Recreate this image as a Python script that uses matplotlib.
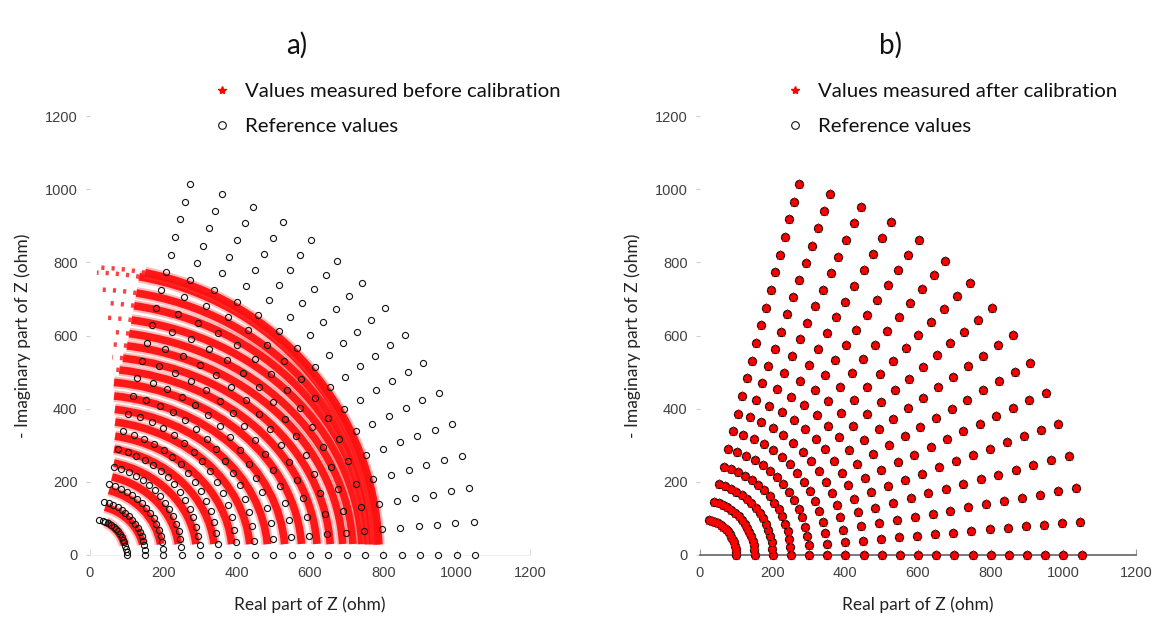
import numpy as np
import matplotlib
matplotlib.use("Agg")
import matplotlib.pyplot as plt
from matplotlib.patches import Arc
from matplotlib.lines import Line2D

# ---------------- data ----------------
# Reference impedances: magnitude (ohm) x phase (deg) grid
ref_magnitudes = [100, 150, 200, 250, 300, 350, 400, 450, 500, 550,
                  600, 650, 700, 750, 800, 850, 900, 950, 1000, 1050]
ref_phases_deg = [0, 5, 10, 15, 20, 25, 30, 35, 40, 45, 50, 55, 60, 65, 70, 75]

# After calibration the measured values sit on the reference values
cal_magnitudes = [100, 150, 200, 250, 300, 350, 400, 450, 500, 550,
                  600, 650, 700, 750, 800, 850, 900, 950, 1000, 1050]
cal_phases_deg = [0, 5, 10, 15, 20, 25, 30, 35, 40, 45, 50, 55, 60, 65, 70, 75]

# Before calibration: each reference ring is measured as a dense band
band_real_axis = [98, 147, 195, 243, 291, 340, 388, 437, 485, 532,
                  578, 620, 656, 690, 718, 742, 760, 772, 782, 788]
band_imag_axis = [100, 136, 183, 220, 258, 295, 330, 368, 402, 438,
                  475, 510, 543, 578, 612, 650, 690, 726, 772, 786]
band_phase_start = [16, 11.5, 8.8, 7.1, 5.9, 5.1, 4.4, 3.9, 3.5, 3.2,
                    3.0, 2.8, 2.6, 2.5, 2.4, 2.3, 2.2, 2.2, 2.1, 2.1]
band_phase_dense_end = [64, 72.6, 73.7, 74.3, 75.5, 77.2, 78.1, 79.3, 80.3, 81.4,
                        82.1, 81.0, 80.5, 80.0, 80.0, 80.0, 80.0, 80.0, 80.0, 79.0]
band_phase_end = [64, 72.6, 73.7, 74.3, 75.5, 77.2, 78.1, 79.3, 80.3, 81.4,
                  82.1, 82.7, 83.6, 84.5, 85.1, 85.9, 86.6, 87.4, 88.6, 89.0]

axis_ticks = [0, 200, 400, 600, 800, 1000, 1200]
panel_titles = ["a)", "b)"]
legend_measured = ["Values measured before calibration", "Values measured after calibration"]
legend_reference = "Reference values"
x_label = "Real part of Z (ohm)"
y_label = "- Imaginary part of Z (ohm)"

# ---------------- figure ----------------
W, H = 1164, 623
fig = plt.figure(figsize=(W / 100, H / 100), dpi=100)
label_font = ["Lato", "DejaVu Sans"]
tick_font = ["Liberation Sans", "DejaVu Sans"]


def polar_to_xy(mags, phases):
    m, p = np.meshgrid(np.asarray(mags, float), np.deg2rad(np.asarray(phases, float)))
    return (m * np.cos(p)).ravel(), (m * np.sin(p)).ravel()


ref_x, ref_y = polar_to_xy(ref_magnitudes, ref_phases_deg)
cal_x, cal_y = polar_to_xy(cal_magnitudes, cal_phases_deg)

axes_px = [(90, 68, 440, 439), (700, 68, 436, 439)]
axes = []
for (l, b, w, h) in axes_px:
    ax = fig.add_axes([l / W, b / H, w / W, h / H])
    ax.set_xlim(0, 1200)
    ax.set_ylim(0, 1200)
    ax.set_xticks(axis_ticks)
    ax.set_yticks(axis_ticks)
    for s in ["top", "right", "left"]:
        ax.spines[s].set_visible(False)
    ax.tick_params(axis="y", direction="out", length=3, width=0.8, color="#cfcfcf",
                   pad=6, labelsize=10.5, labelcolor="#404040")
    ax.tick_params(axis="x", direction="in", length=4, width=0.8, color="#9a9a9a",
                   pad=8, labelsize=10.5, labelcolor="#404040")
    for lab in ax.get_xticklabels() + ax.get_yticklabels():
        lab.set_fontfamily(tick_font)
    ax.set_xlabel(x_label, fontsize=12.5, family=label_font, color="#222222")
    ax.set_ylabel(y_label, fontsize=12.5, family=label_font, color="#222222")
    ax.xaxis.set_label_coords(0.5, -0.095)
    ax.yaxis.set_label_coords(-0.135, 0.5)
    axes.append(ax)

ax_a, ax_b = axes

# ---- panel a ----
ax_a.spines["bottom"].set_color("#f0f0f0")
ax_a.tick_params(axis="x", color="#dddddd")
for a_, b_, t0, td, t1 in zip(band_real_axis, band_imag_axis, band_phase_start,
                              band_phase_dense_end, band_phase_end):
    # fuzzy halo + dense core
    ax_a.add_patch(Arc((0, 0), 2 * a_, 2 * b_, theta1=t0, theta2=td,
                       color="#ff4040", lw=8.5, alpha=0.35, zorder=2))
    ax_a.add_patch(Arc((0, 0), 2 * a_, 2 * b_, theta1=t0, theta2=td,
                       color="#ff0f0f", lw=5.5, alpha=0.95, zorder=2))
    if t1 > td:
        ax_a.add_patch(Arc((0, 0), 2 * a_, 2 * b_, theta1=td, theta2=t1,
                           color="#ff2a2a", lw=3.2, linestyle=(0, (0.7, 1.6)),
                           alpha=0.9, zorder=2))
ax_a.plot(ref_x, ref_y, linestyle="none", marker="o", ms=4.4, mfc="none",
          mec="#111111", mew=0.8, zorder=3, clip_on=False)

# ---- panel b ----
ax_b.spines["bottom"].set_color("#555555")
ax_b.spines["bottom"].set_linewidth(1.1)
ax_b.plot(ref_x, ref_y, linestyle="none", marker="o", ms=5.8, mfc="#e00000",
          mec="#111111", mew=0.9, zorder=3, clip_on=False)
ax_b.plot(cal_x, cal_y, linestyle="none", marker="*", ms=6.5, mfc="#ff0000",
          mec="#ff0000", mew=0.6, zorder=4, clip_on=False)

# ---- titles and legends ----
fig.text(297 / W, 1 - 45 / H, panel_titles[0], ha="center", va="center",
         fontsize=20, family=label_font, color="#111111")
fig.text(891 / W, 1 - 45 / H, panel_titles[1], ha="center", va="center",
         fontsize=20, family=label_font, color="#111111")

for ax, meas, xs in zip(axes, legend_measured, [222, 795]):
    handles = [Line2D([], [], linestyle="none", marker="*", ms=6, color="#ff0000"),
               Line2D([], [], linestyle="none", marker="o", ms=5.5, mfc="none",
                      mec="#111111", mew=0.8)]
    leg = ax.legend(handles, [meas, legend_reference], loc="center left",
                    bbox_to_anchor=((xs - 12) / W, 1 - 109 / H),
                    bbox_transform=fig.transFigure, frameon=False,
                    prop={"family": label_font, "size": 14.7},
                    handlelength=1.2, handletextpad=0.5, labelspacing=0.9,
                    borderpad=0, borderaxespad=0)
    for t in leg.get_texts():
        t.set_color("#111111")

fig.savefig("out.png", dpi=100)
